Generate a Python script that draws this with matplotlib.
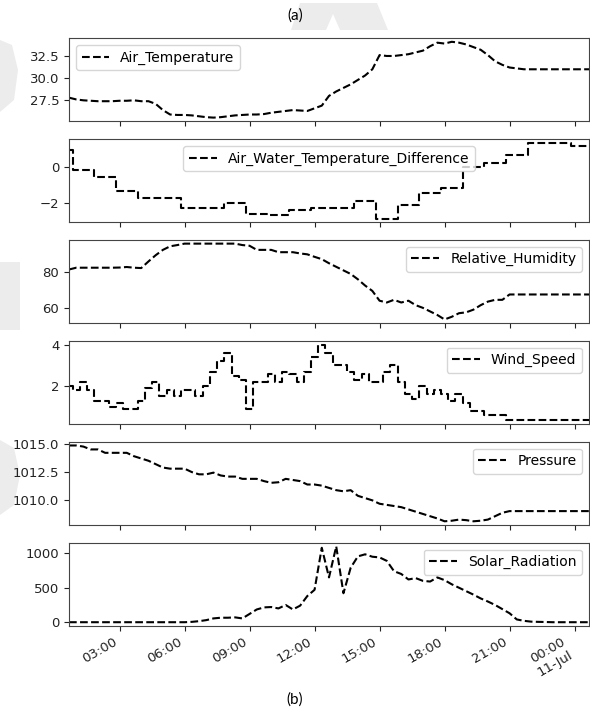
import numpy as np
import pandas as pd
import matplotlib
matplotlib.use("Agg")
import matplotlib.pyplot as plt
import matplotlib.dates as mdates
from matplotlib.patches import Polygon

# 20-minute samples, 10 Jul 00:40 -> 11 Jul 00:40
times = pd.date_range("2019-07-10 00:40", periods=73, freq="20min")

air_temperature = [
    27.8, 27.6, 27.5, 27.45, 27.4, 27.4, 27.4, 27.45, 27.45, 27.5,
    27.4, 27.4, 27.1, 26.4, 25.9, 25.85, 25.85, 25.8, 25.7, 25.6,
    25.55, 25.6, 25.7, 25.8, 25.85, 25.9, 25.9, 25.95, 26.1, 26.2,
    26.3, 26.4, 26.35, 26.3, 26.6, 26.9, 28.0, 28.5, 28.9, 29.3,
    29.8, 30.3, 31.0, 32.6, 32.5, 32.5, 32.6, 32.7, 32.9, 33.1,
    33.6, 34.0, 33.9, 34.1, 34.0, 33.8, 33.5, 33.2, 32.6, 31.9,
    31.5, 31.2, 31.1, 31.0, 31.0, 31.0, 31.0, 31.0, 31.0, 31.0,
    31.0, 31.0, 31.0,
]

air_water_difference = [
    0.96, -0.15, -0.15, -0.15, -0.56, -0.56, -0.56, -1.35, -1.35, -1.35,
    -1.72, -1.72, -1.72, -1.72, -1.72, -1.72, -2.26, -2.26, -2.26, -2.26,
    -2.26, -2.26, -2.0, -2.0, -2.0, -2.59, -2.59, -2.59, -2.65, -2.65,
    -2.65, -2.4, -2.4, -2.4, -2.26, -2.26, -2.26, -2.26, -2.26, -2.26,
    -1.89, -1.89, -1.89, -2.87, -2.87, -2.87, -2.13, -2.13, -2.13, -1.44,
    -1.44, -1.44, -1.19, -1.19, -1.19, 0.0, 0.0, 0.0, 0.22, 0.22,
    0.22, 0.65, 0.65, 0.65, 1.35, 1.35, 1.35, 1.35, 1.35, 1.35,
    1.15, 1.15, 1.15,
]

relative_humidity = [
    81.5, 82.5, 82.5, 82.5, 82.5, 82.5, 82.5, 82.6, 82.9, 82.5,
    82.3, 86.0, 89.5, 92.5, 94.5, 95.2, 96.0, 96.0, 96.0, 96.0,
    96.0, 96.0, 96.0, 96.0, 95.2, 94.8, 92.5, 92.5, 92.5, 91.2,
    91.2, 91.2, 90.5, 90.0, 88.6, 87.3, 85.0, 83.0, 81.0, 79.0,
    76.0, 72.5, 69.5, 64.0, 63.0, 64.5, 63.0, 64.0, 61.5, 60.0,
    58.0, 56.0, 53.5, 55.0, 57.0, 57.5, 59.0, 61.5, 63.5, 64.5,
    64.5, 67.5, 67.5, 67.5, 67.5, 67.5, 67.5, 67.5, 67.5, 67.5,
    67.5, 67.5, 67.5,
]

wind_speed = [
    2.0, 1.8, 2.2, 1.8, 1.3, 1.3, 1.0, 1.2, 0.9, 0.9,
    1.3, 1.9, 2.2, 1.5, 1.8, 1.5, 1.8, 1.8, 1.5, 2.0,
    2.7, 3.2, 3.6, 2.5, 2.3, 0.9, 2.2, 2.2, 2.6, 2.2,
    2.7, 2.6, 2.2, 2.7, 3.4, 4.0, 3.6, 3.0, 3.0, 2.7,
    2.3, 2.6, 2.2, 2.2, 2.7, 3.0, 2.2, 1.6, 1.4, 2.0,
    1.6, 1.8, 1.6, 1.3, 1.6, 1.2, 0.8, 0.8, 0.6, 0.6,
    0.6, 0.35, 0.35, 0.35, 0.35, 0.35, 0.35, 0.35, 0.35, 0.35,
    0.35, 0.35, 0.35,
]

pressure = [
    1014.85, 1014.85, 1014.75, 1014.5, 1014.5, 1014.2, 1014.2, 1014.2, 1014.2, 1013.9,
    1013.7, 1013.5, 1013.2, 1012.9, 1012.8, 1012.8, 1012.8, 1012.5, 1012.3, 1012.3,
    1012.45, 1012.2, 1012.1, 1012.1, 1011.9, 1011.9, 1011.9, 1011.7, 1011.55, 1011.6,
    1011.9, 1011.8, 1011.7, 1011.4, 1011.4, 1011.3, 1011.1, 1010.9, 1010.8, 1010.9,
    1010.4, 1010.2, 1010.0, 1009.7, 1009.6, 1009.5, 1009.4, 1009.2, 1009.0, 1008.8,
    1008.6, 1008.4, 1008.15, 1008.2, 1008.3, 1008.25, 1008.15, 1008.2, 1008.3, 1008.6,
    1008.9, 1009.05, 1009.05, 1009.05, 1009.05, 1009.05, 1009.05, 1009.05, 1009.05, 1009.05,
    1009.05, 1009.05, 1009.05,
]

solar_radiation = [
    0, 0, 0, 0, 0, 0, 0, 0, 0, 0,
    0, 0, 0, 0, 0, 0, 0, 5, 15, 30,
    55, 65, 65, 70, 55, 120, 185, 215, 220, 200,
    250, 185, 240, 380, 470, 1080, 650, 1100, 420, 790,
    955, 985, 950, 940, 890, 740, 700, 620, 640, 600,
    590, 650, 610, 550, 500, 450, 400, 345, 300, 250,
    190, 130, 40, 20, 8, 5, 3, 0, 0, 0,
    0, 0, 0,
]

series = [
    ("Air_Temperature", air_temperature, [27.5, 30.0, 32.5], "upper left", "default"),
    ("Air_Water_Temperature_Difference", air_water_difference, [-2, 0], "upper center", "steps-mid"),
    ("Relative_Humidity", relative_humidity, [60, 80], "upper right", "default"),
    ("Wind_Speed", wind_speed, [2, 4], "upper right", "steps-mid"),
    ("Pressure", pressure, [1010.0, 1012.5, 1015.0], "upper right", "default"),
    ("Solar_Radiation", solar_radiation, [0, 500, 1000], "upper right", "default"),
]

plt.rcParams["font.family"] = ["DejaVu Sans"]

W, H = 590, 717
fig = plt.figure(figsize=(W / 100, H / 100), dpi=100)

# faint background artwork, kept beneath everything else
def px_poly(points):
    pts = [(x / W, 1 - y / H) for x, y in points]
    fig.patches.append(Polygon(pts, closed=True, transform=fig.transFigure,
                               facecolor="#ececec", edgecolor="none", zorder=-10))

px_poly([(300, 3), (377, 3), (388, 30), (340, 30), (333, 14), (326, 30), (291, 30)])
px_poly([(0, 40), (12, 45), (18, 70), (14, 100), (0, 112)])
px_poly([(0, 262), (20, 262), (20, 330), (0, 330)])
px_poly([(0, 440), (14, 448), (20, 475), (14, 505), (0, 515)])

axes = fig.subplots(6, 1, sharex=True)
fig.subplots_adjust(left=69 / W, right=589 / W, top=1 - 38 / H, bottom=1 - 626 / H, hspace=0.21)

for ax, (name, values, yticks, loc, ds) in zip(axes, series):
    ax.set_zorder(1)
    ax.plot(times, values, linestyle="--", color="black", linewidth=1.5,
            drawstyle=ds, label=name)
    ax.set_yticks(yticks)
    ax.tick_params(axis="both", labelsize=9.5, colors="#222222")
    for sp in ax.spines.values():
        sp.set_color("#444444")
    ax.legend(loc=loc, fontsize=10, handlelength=2.0)

axes[0].set_xlim(times[0], times[-1])

def fmt_time(x, pos=None):
    d = mdates.num2date(x)
    if d.hour == 0:
        return d.strftime("%H:%M") + "\n" + d.strftime("%d-%b")
    return d.strftime("%H:%M")

axes[-1].xaxis.set_major_locator(mdates.HourLocator(byhour=range(0, 24, 3)))
axes[-1].xaxis.set_major_formatter(plt.FuncFormatter(fmt_time))
for lab in axes[-1].get_xticklabels():
    lab.set_rotation(30)
    lab.set_ha("right")

fig.text(0.5, 1 - 16 / H, "(a)", ha="center", va="center", fontsize=11, family="Lato")
fig.text(0.5, 1 - 700 / H, "(b)", ha="center", va="center", fontsize=11, family="Lato")

fig.savefig("out.png", dpi=100, facecolor="white")
